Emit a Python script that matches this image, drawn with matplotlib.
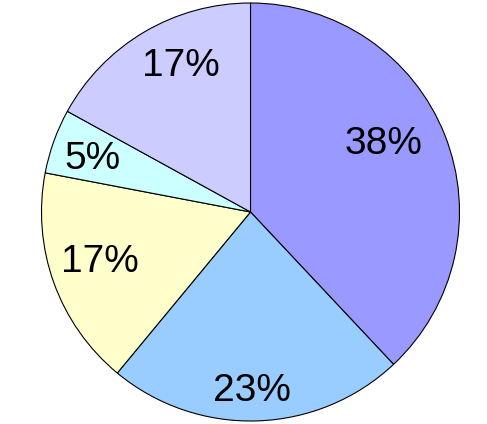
import numpy as np
import matplotlib
matplotlib.use("Agg")
import matplotlib.pyplot as plt

shares = [38, 23, 17, 5, 17]
labels = ["38%", "23%", "17%", "5%", "17%"]
colors = ["#9999FF", "#99CCFF", "#FFFFCC", "#CCFFFF", "#CCCCFF"]
# label centres, in units of the pie radius (Excel nudges them off the mid-angle)
label_pos = [(0.636, 0.340), (0.005, -0.840), (-0.720, -0.222),
             (-0.758, 0.268), (-0.335, 0.715)]

W, H = 487, 424
fig = plt.figure(figsize=(W / 100, H / 100), dpi=100)
cx, cy, r = 250.5, 212.0, 209.0
ax = fig.add_axes([(cx - r) / W, (H - cy - r) / H, 2 * r / W, 2 * r / H])

wedges, _ = ax.pie(shares, colors=colors, startangle=90, counterclock=False,
                   radius=1.0, center=(0, 0),
                   wedgeprops=dict(edgecolor="black", linewidth=0.8))
for w in wedges:
    w.set_clip_on(False)

for lab, (x, y) in zip(labels, label_pos):
    ax.text(x, y - 0.015, lab, ha="center", va="center", fontsize=28,
            family="Liberation Sans", color="black")

ax.set_xlim(-1, 1)
ax.set_ylim(-1, 1)
ax.set_aspect("auto")
ax.axis("off")

fig.savefig("out.png", dpi=100)
plt.close(fig)
